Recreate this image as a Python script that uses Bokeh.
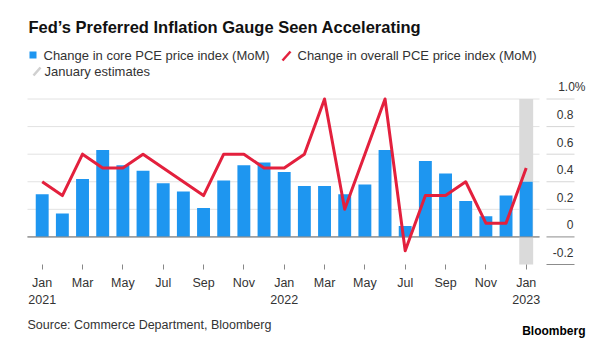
from bokeh.plotting import figure
from bokeh.models import Range1d, FixedTicker, Label
from bokeh.embed import file_html
from bokeh.resources import INLINE

# ---------------- data ----------------
months = ["Jan 2021", "Feb 2021", "Mar 2021", "Apr 2021", "May 2021", "Jun 2021",
          "Jul 2021", "Aug 2021", "Sep 2021", "Oct 2021", "Nov 2021", "Dec 2021",
          "Jan 2022", "Feb 2022", "Mar 2022", "Apr 2022", "May 2022", "Jun 2022",
          "Jul 2022", "Aug 2022", "Sep 2022", "Oct 2022", "Nov 2022", "Dec 2022",
          "Jan 2023"]
core_pce = [0.31, 0.17, 0.42, 0.63, 0.52, 0.48, 0.39, 0.33, 0.21, 0.41, 0.52, 0.54,
            0.47, 0.37, 0.37, 0.31, 0.38, 0.63, 0.08, 0.55, 0.46, 0.26, 0.15, 0.30,
            0.40]
overall_pce = [0.4, 0.3, 0.6, 0.5, 0.5, 0.6, 0.5, 0.4, 0.3, 0.6, 0.6, 0.5,
               0.5, 0.6, 1.0, 0.2, 0.6, 1.0, -0.1, 0.3, 0.3, 0.4, 0.1, 0.1,
               0.5]
estimate_months = ["Jan 2023"]
y_ticks = [-0.2, 0.0, 0.2, 0.4, 0.6, 0.8, 1.0]
y_tick_labels = ["-0.2", "0", "0.2", "0.4", "0.6", "0.8", "1.0%"]
x_tick_months = ["Jan 2021", "Mar 2021", "May 2021", "Jul 2021", "Sep 2021", "Nov 2021",
                 "Jan 2022", "Mar 2022", "May 2022", "Jul 2022", "Sep 2022", "Nov 2022",
                 "Jan 2023"]

title_text = "Fed\u2019s Preferred Inflation Gauge Seen Accelerating"
legend_core = "Change in core PCE price index (MoM)"
legend_overall = "Change in overall PCE price index (MoM)"
legend_est = "January estimates"
source_text = "Source: Commerce Department, Bloomberg"
brand_text = "Bloomberg"

# ---------------- styles / layout ----------------
W, H = 610, 354
FONT = "Liberation Sans"
BLUE = "#1E96F0"
RED = "#E3203D"
BAND = "#DADADA"
GRID = "#E2E2E2"
DARK = "#8C8C8C"
TEXT = "#333333"

AXIS_PX = 264               # canvas px of the plot bottom (value -0.2)
PX_PER_UNIT = 137.9
ZERO_PX = AXIS_PX - 0.2 * PX_PER_UNIT
X0_PX = 41.7                # canvas px of first month
PX_PER_MONTH = 20.167


def dx(px):
    return (px - X0_PX) / PX_PER_MONTH


def dy(py):
    return (ZERO_PX - py) / PX_PER_UNIT


idx = list(range(len(months)))
pos = {m: i for i, m in enumerate(months)}

p = figure(width=W, height=H, output_backend="svg", toolbar_location=None,
           x_range=Range1d(dx(0), dx(W)), y_range=Range1d(dy(H), dy(0)),
           y_axis_location=None,
           min_border_left=0, min_border_right=0, min_border_top=0,
           min_border_bottom=0)
p.outline_line_color = None
p.grid.visible = False
p.background_fill_color = "white"
p.border_fill_color = "white"

# grid lines inside the plot and short rules under the right labels
grid_vals = [v for v in y_ticks if v > min(y_ticks)]
p.segment(x0=[dx(27)] * len(grid_vals), x1=[dx(539)] * len(grid_vals),
          y0=grid_vals, y1=grid_vals,
          line_color=[DARK if v == 0 else GRID for v in grid_vals], line_width=1)
p.segment(x0=[dx(546)] * len(y_ticks), x1=[dx(574)] * len(y_ticks),
          y0=y_ticks, y1=y_ticks,
          line_color=[DARK if v <= 0 else "#D6D6D6" for v in y_ticks], line_width=1)

# January estimate band
p.vbar(x=[pos[m] for m in estimate_months], top=max(y_ticks), bottom=min(y_ticks),
       width=0.69, fill_color=BAND, line_color=None)

# bars
p.vbar(x=idx, top=core_pce, bottom=0, width=0.64, fill_color=BLUE, line_color=None)
# zero line again above band
p.segment(x0=[dx(27)], x1=[dx(539)], y0=[0], y1=[0], line_color=DARK, line_width=1)
# line
p.line(x=idx, y=overall_pce, line_color=RED, line_width=3, line_join="round")

# y labels
lab_x = [dx(585) if "%" in t else dx(573) for t in y_tick_labels]
p.text(x=lab_x, y=y_ticks, text=y_tick_labels, y_offset=-12,
       text_align="right", text_baseline="middle", text_font={"value": FONT},
       text_font_size="12px", text_color=TEXT)

# legend swatches
p.scatter(x=[dx(32.5)], y=[dy(54.5)], marker="square", size=7,
          fill_color=BLUE, line_color=None)
p.segment(x0=[dx(282)], y0=[dy(60)], x1=[dx(290)], y1=[dy(51)],
          line_color=RED, line_width=2.5)
p.segment(x0=[dx(33)], y0=[dy(75)], x1=[dx(40)], y1=[dy(67)],
          line_color="#D0D0D0", line_width=2.5)

# x axis, pinned at the bottom of the value scale
xa = p.xaxis[0]
xa.fixed_location = min(y_ticks)
xa.ticker = FixedTicker(ticks=[pos[m] for m in x_tick_months])
overrides = {}
for m in x_tick_months:
    mon, yr = m.split()
    overrides[pos[m]] = mon + ("\n" + yr if mon == "Jan" else "")
xa.major_label_overrides = overrides
xa.axis_line_color = None
xa.major_tick_in = 0
xa.major_tick_out = 5
xa.major_tick_line_color = "#888888"
xa.minor_tick_line_color = None
xa.major_label_standoff = 6
xa.major_label_text_font = FONT
xa.major_label_text_font_size = "12.5px"
xa.major_label_text_color = TEXT
xa.major_label_text_line_height = 1.28


def add_text(text, x, y, size, bold=False, color=TEXT, align="left"):
    p.add_layout(Label(x=x, y=H - y, x_units="screen", y_units="screen",
                       text=text, text_font=FONT, text_font_size=size,
                       text_font_style="bold" if bold else "normal",
                       text_color=color, text_align=align, text_baseline="middle"))


add_text(title_text, 28, 26.5, "16.5px", bold=True, color="#111111")
add_text(legend_core, 43, 54.5, "13px")
add_text(legend_overall, 297, 54.5, "13px")
add_text(legend_est, 44, 70.5, "13px")
add_text(source_text, 27, 324, "12.5px")
add_text(brand_text, 585, 330, "12px", bold=True, color="#000000", align="right")

open("out.html", "w").write(file_html(p, INLINE))
